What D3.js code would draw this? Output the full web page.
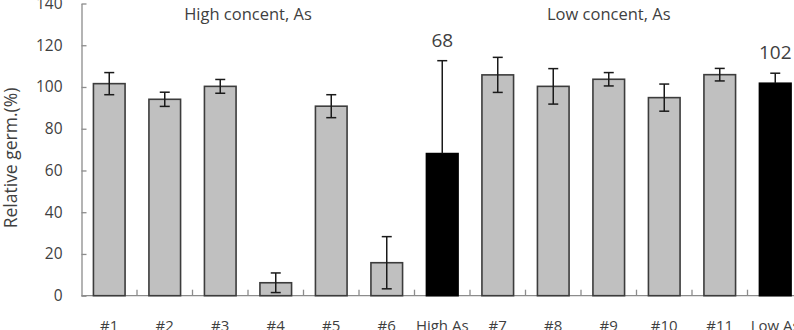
<!DOCTYPE html>
<html>
<head>
<meta charset="utf-8">
<script src="https://cdn.jsdelivr.net/npm/d3@7"></script>
<style>
  body { margin: 0; background: #fff; }
  svg { display: block; font-family: "Open Sans", Lato, sans-serif; }
</style>
</head>
<body>
<div id="chart"></div>
<script>
var categories = ['#1', '#2', '#3', '#4', '#5', '#6', 'High As', '#7', '#8', '#9', '#10', '#11', 'Low As'];
var values = [101.6, 94.1, 100.3, 6.2, 90.8, 15.8, 68.1, 105.8, 100.3, 103.7, 94.9, 105.9, 101.8];
var errors = [5.3, 3.4, 3.3, 4.7, 5.5, 12.5, 44.5, 8.4, 8.5, 3.2, 6.5, 3.0, 4.8];
var summary = ['High As', 'Low As'];
var summaryLabels = {'High As': '68', 'Low As': '102'};
var yTicks = [0, 20, 40, 60, 80, 100, 120, 140];
var groupTitles = [{text: 'High concent, As', from: '#2', to: '#5'},
                   {text: 'Low concent, As', from: '#8', to: '#10'}];

var width = 794, height = 330;
var plotLeft = 81.5, plotBottom = 295.7, plotTop = 3.5, step = 55.5;

var svg = d3.select('#chart')
  .append('svg')
  .attr('width', width)
  .attr('height', height);

var x = d3.scaleBand()
  .domain(categories)
  .range([plotLeft, plotLeft + step * categories.length])
  .padding(0);

var y = d3.scaleLinear().domain([0, 140]).range([plotBottom, plotTop]);

var barW = x.bandwidth() * 0.57;

// y axis, ticks point inward
var yAxis = svg.append('g')
  .attr('transform', `translate(${plotLeft},0)`)
  .call(d3.axisLeft(y).tickValues(yTicks).tickSize(-5).tickSizeOuter(0).tickPadding(19));

yAxis.select('.domain').attr('stroke', '#8c8c8c').attr('stroke-width', 1.3);
yAxis.selectAll('.tick line').attr('stroke', '#8c8c8c').attr('stroke-width', 1.3);
yAxis.selectAll('.tick text')
  .attr('fill', '#3f3f3f')
  .style('font-family', '"Open Sans", sans-serif')
  .style('font-size', '15.5px');

// x axis line
svg.append('line')
  .attr('x1', plotLeft).attr('x2', x.range()[1])
  .attr('y1', plotBottom).attr('y2', plotBottom)
  .attr('stroke', '#8c8c8c').attr('stroke-width', 1.3);

// small upward ticks between categories
svg.selectAll('.xtick')
  .data(categories.slice(1))
  .enter()
  .append('line')
  .attr('class', 'xtick')
  .attr('x1', function(d) { return x(d); })
  .attr('x2', function(d) { return x(d); })
  .attr('y1', plotBottom)
  .attr('y2', plotBottom - 6)
  .attr('stroke', '#8c8c8c').attr('stroke-width', 1.3);

// bars
svg.selectAll('.bar')
  .data(categories)
  .enter()
  .append('rect')
  .attr('class', 'bar')
  .attr('x', function(d) { return x(d) + (x.bandwidth() - barW) / 2; })
  .attr('width', barW)
  .attr('y', function(d, i) { return y(values[i]); })
  .attr('height', function(d, i) { return y(0) - y(values[i]); })
  .attr('fill', function(d) { return summary.includes(d) ? '#000' : '#c0c0c0'; })
  .attr('stroke', function(d) { return summary.includes(d) ? '#000' : '#3c3c3c'; })
  .attr('stroke-width', 1.6);

// error bars
var err = svg.selectAll('.err')
  .data(categories)
  .enter()
  .append('g')
  .attr('class', 'err')
  .attr('transform', function(d) { return `translate(${x(d) + x.bandwidth() / 2},0)`; });

err.append('line')
  .attr('y1', function(d, i) { return y(values[i] + errors[i]); })
  .attr('y2', function(d, i) { return summary.includes(d) ? y(values[i]) : y(Math.max(0, values[i] - errors[i])); })
  .attr('stroke', '#1a1a1a').attr('stroke-width', 1.5);

err.append('line')
  .attr('x1', -5).attr('x2', 5)
  .attr('y1', function(d, i) { return y(values[i] + errors[i]); })
  .attr('y2', function(d, i) { return y(values[i] + errors[i]); })
  .attr('stroke', '#1a1a1a').attr('stroke-width', 1.5);

err.filter(function(d) { return !summary.includes(d); })
  .append('line')
  .attr('x1', -5).attr('x2', 5)
  .attr('y1', function(d) { var i = categories.indexOf(d); return y(values[i] - errors[i]); })
  .attr('y2', function(d) { var i = categories.indexOf(d); return y(values[i] - errors[i]); })
  .attr('stroke', '#1a1a1a').attr('stroke-width', 1.5);

// value labels over summary bars
svg.selectAll('.vlabel')
  .data(summary)
  .enter()
  .append('text')
  .attr('class', 'vlabel')
  .attr('x', function(d) { return x(d) + x.bandwidth() / 2; })
  .attr('y', function(d) { var i = categories.indexOf(d); return y(values[i] + errors[i]) - 14; })
  .attr('text-anchor', 'middle')
  .attr('fill', '#3f3f3f')
  .style('font-size', '19px')
  .text(function(d) { return summaryLabels[d]; });

// category labels
svg.selectAll('.xlabel')
  .data(categories)
  .enter()
  .append('text')
  .attr('class', 'xlabel')
  .attr('x', function(d) { return x(d) + x.bandwidth() / 2; })
  .attr('y', 331)
  .attr('text-anchor', 'middle')
  .attr('fill', '#3f3f3f')
  .style('font-size', '15px')
  .text(function(d) { return d; });

// group titles
svg.selectAll('.gtitle')
  .data(groupTitles)
  .enter()
  .append('text')
  .attr('class', 'gtitle')
  .attr('x', function(d) { return (x(d.from) + x(d.to) + x.bandwidth()) / 2; })
  .attr('y', 20)
  .attr('text-anchor', 'middle')
  .attr('fill', '#3f3f3f')
  .style('font-size', '16.5px')
  .text(function(d) { return d.text; });

// y axis title
svg.append('text')
  .attr('transform', 'translate(17,158) rotate(-90)')
  .attr('text-anchor', 'middle')
  .attr('fill', '#3f3f3f')
  .style('font-size', '17.5px')
  .text('Relative germ.(%)');
</script>
</body>
</html>
